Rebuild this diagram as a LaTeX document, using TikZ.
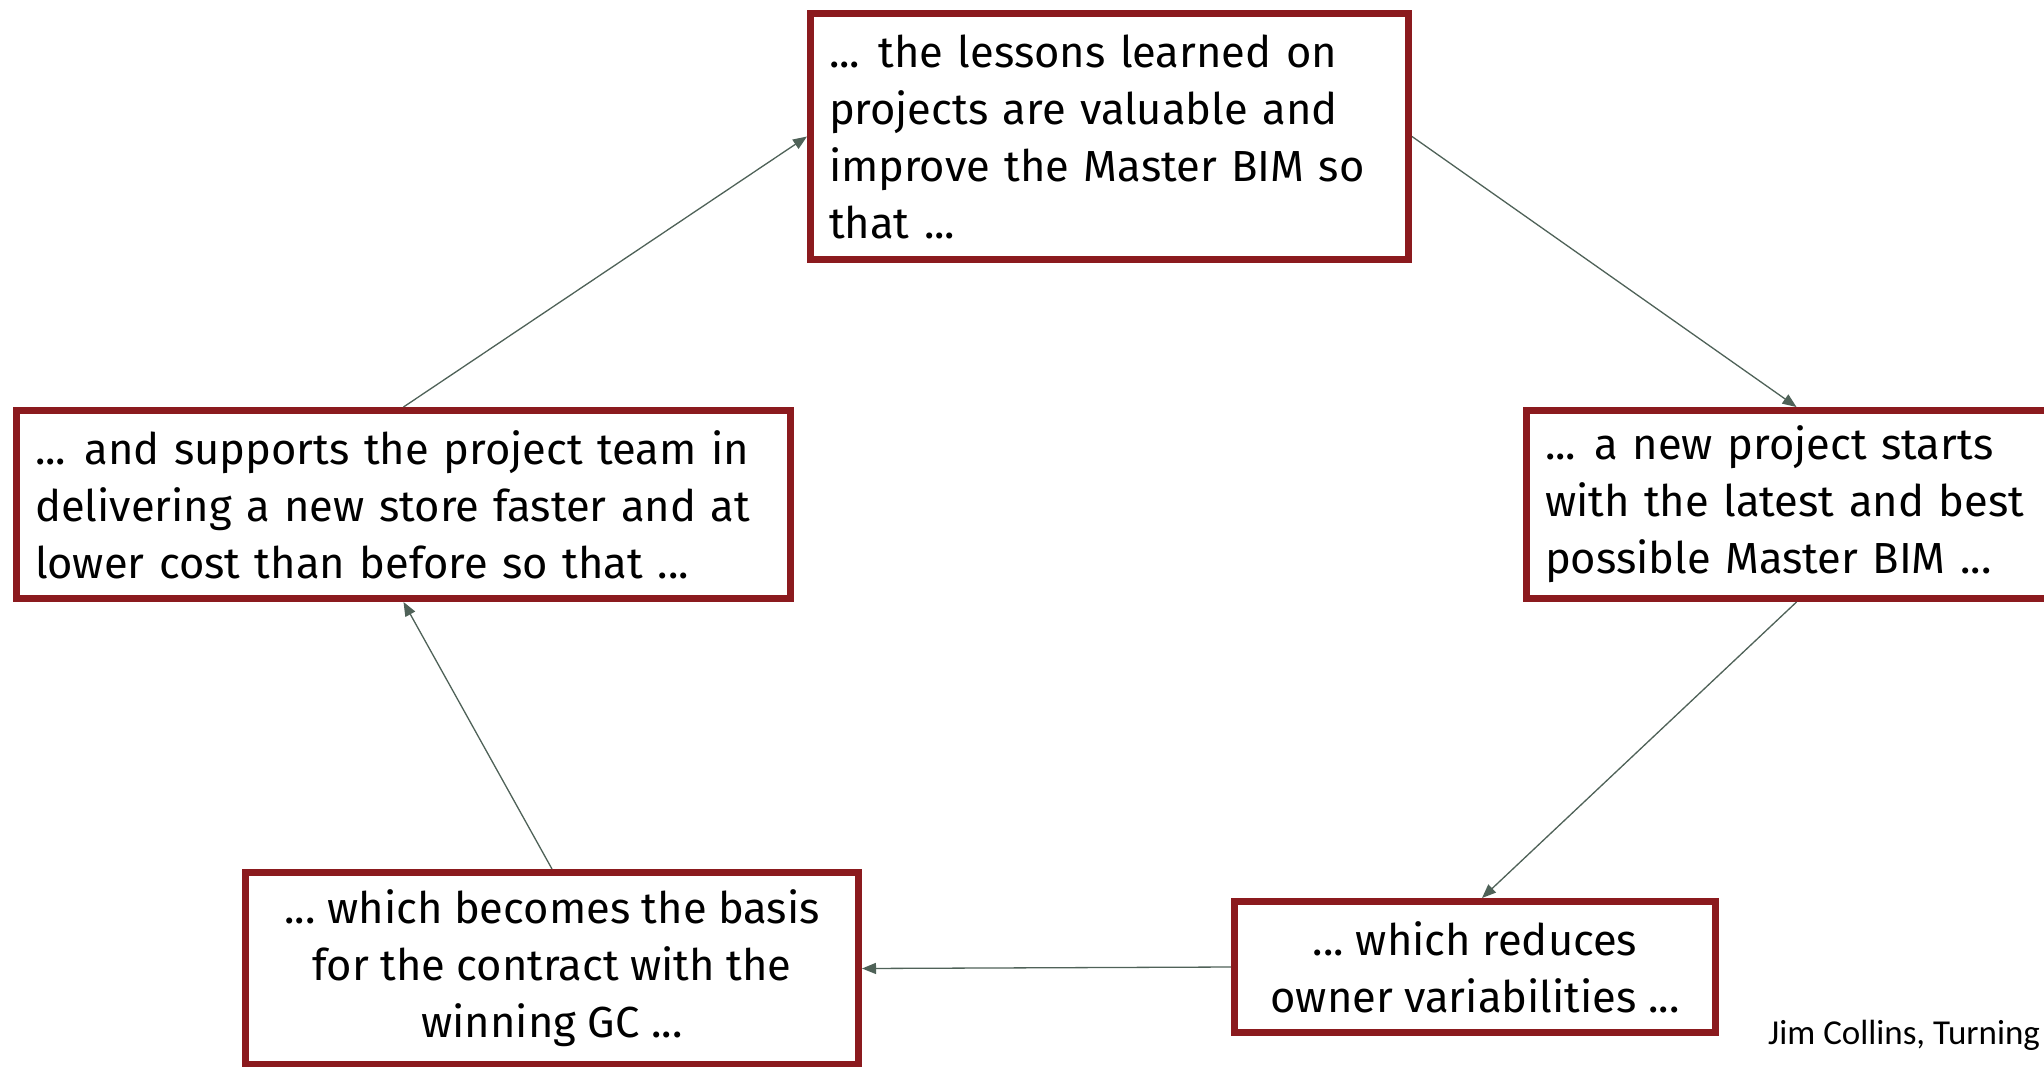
\documentclass[tikz,border=0pt]{standalone}
\usepackage{fontspec}
\setmainfont{Fira Sans}
\newfontfamily\notefont{Carlito}
\usetikzlibrary{arrows.meta}
\definecolor{boxred}{HTML}{8B1A1E}
\definecolor{arrgray}{HTML}{4F6258}
\newcommand\fdots{...\kern-0.08em}
\begin{document}
\begin{tikzpicture}[x=1pt,y=-1pt,
  flybox/.style={draw=boxred, line width=7pt, fill=white, inner xsep=18.5pt, inner ysep=0pt,
    font=\fontsize{43.5}{57}\selectfont, text=black},
  leftbox/.style={flybox, align=left},
  midbox/.style={flybox, align=center},
  flow/.style={draw=arrgray, line width=1.3pt, -{Triangle[length=14pt,width=11pt]}},
  note/.style={font=\notefont\fontsize{35}{40}\selectfont, text=black, inner sep=0pt, anchor=base west}]
\useasboundingbox (0,0) rectangle (2044,1066);
\clip (0,0) rectangle (2044,1066);
\fill[white] (0,0) rectangle (2044,1066);

\node[leftbox, minimum width=598pt, minimum height=246pt, text width=561pt] (top) at (1109.5,136.5)
  {\mbox{\fdots{} the lessons learned on}\\\mbox{projects are valuable and}\\\mbox{improve the Master BIM so}\\\mbox{that ...}};
\node[leftbox, minimum width=774pt, minimum height=188pt, text width=737pt] (left) at (403.5,504.5)
  {\mbox{\fdots{} and supports the project team in}\\\mbox{delivering a new store faster and at}\\\mbox{lower cost than before so that ...}};
\node[leftbox, minimum width=540pt, minimum height=188pt, text width=503pt] (right) at (1796.5,504.5)
  {\mbox{\fdots{} a new project starts}\\\mbox{with the latest and best}\\\mbox{possible Master BIM ...}};
\node[midbox, minimum width=481pt, minimum height=131pt] (bright) at (1475,967)
  {\fdots{} which reduces\\owner variabilities ...};
\node[midbox, minimum width=613pt, minimum height=192pt] (bleft) at (552,968.5)
  {\fdots{} which becomes the basis\\for the contract with the\\winning GC ...};

\node[note] (cite) at (1768,1044) {Jim Collins, Turning};

\draw[flow] (top.east) -- (right.north);
\draw[flow] (right.south) -- (bright.north west -| 1482,0);
\draw[flow] (bright.west) -- (bleft.east);
\draw[flow] (bleft.north) -- (left.south);
\draw[flow] (left.north) -- (top.west);
\end{tikzpicture}
\end{document}
